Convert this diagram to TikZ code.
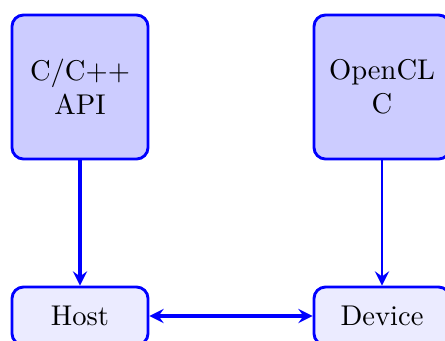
\documentclass[tikz,border=0pt]{standalone}
\usetikzlibrary{arrows.meta}
\begin{document}
\begin{tikzpicture}[x=0.35pt,y=-0.35pt,
  topbox/.style={draw=blue, fill=blue!20, line width=1pt, rounded corners=4pt,
    minimum width=47.6pt, minimum height=50.4pt, align=center, inner sep=0pt},
  botbox/.style={draw=blue, fill=blue!8, line width=1pt, rounded corners=4pt,
    minimum width=47.6pt, minimum height=20.3pt, align=center, inner sep=0pt},
  conn/.style={draw=blue, -{Stealth[length=5pt,width=5pt,inset=1.8pt]}}]
\useasboundingbox (0,0) rectangle (445,340);
\node[topbox] (api) at (80,87) {C/C++\\API};
\node[topbox] (ocl) at (382,87) {OpenCL\\C};
\node[botbox] (host) at (80,316) {Host};
\node[botbox] (dev) at (382,316) {Device};
\draw[conn, line width=1.2pt] (api) -- (host);
\draw[conn, line width=0.8pt] (ocl) -- (dev);
\draw[conn, line width=1.2pt, {Stealth[length=5pt,width=5pt,inset=1.8pt]}-{Stealth[length=5pt,width=5pt,inset=1.8pt]}] (host) -- (dev);
\end{tikzpicture}
\end{document}
